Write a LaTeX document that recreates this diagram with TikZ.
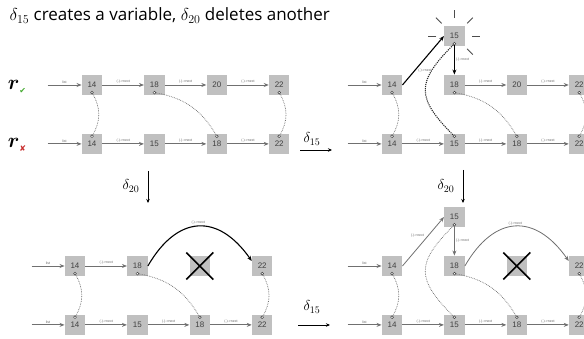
\documentclass[tikz,border=0pt]{standalone}
\usepackage{amsmath}
\usepackage{bm}
\usepackage{fontspec}
\setmainfont{Open Sans}
\newfontfamily\boxfont{Liberation Sans}
\newfontfamily\symfont{DejaVu Sans}
\usetikzlibrary{arrows.meta, positioning, calc}

\definecolor{boxgray}{RGB}{192,192,192}
\definecolor{linegray}{RGB}{112,112,112}
\definecolor{okgreen}{RGB}{70,170,50}
\definecolor{badred}{RGB}{200,45,45}

\begin{document}
\begin{tikzpicture}[x=1pt, y=1pt,
        node distance=38pt and 41.5pt,
        % Define styles for the nodes
        cell/.style={rectangle, fill=boxgray, minimum size=20.5pt, inner sep=0pt, font=\boxfont\fontsize{8}{8}\selectfont, text=black!75},
        dot/.style={circle, draw=black!75, fill=white, line width=0.5pt, inner sep=0pt, minimum size=2.8pt},
        lab/.style={font=\boxfont\fontsize{3.5}{4}\selectfont, text=black!60, inner sep=1pt},
        mark_node/.style={inner sep=0pt},
        % Styles for arrows
        ptr/.style={-{Stealth[length=5pt, width=4pt]}, draw=linegray, line width=0.8pt},
        hot/.style={ptr, draw=black, line width=1.1pt},
        link/.style={densely dotted, draw=black!60, line width=0.7pt},
        hotlink/.style={link, draw=black!85, line width=1.1pt},
        ray/.style={draw=black!70, line width=0.8pt},
        step_arrow/.style={-{Stealth[length=4pt, width=3.5pt]}, line width=0.8pt},
        cross/.style={draw=black, line width=1.6pt}
    ]
    \useasboundingbox (0,0) rectangle (584,339);
    \clip (0,0) rectangle (584,339);

    \node[anchor=base west, font=\fontsize{17}{19}\selectfont] (title) at (6,318)
        {$\delta_{15}$ creates a variable, $\delta_{20}$ deletes another};

    % =========================================================================
    % TOP LEFT - THE TWO RUNS
    % =========================================================================
    \node[mark_node] (r_ok) at (17,252) {\fontsize{22}{22}\selectfont$\bm{r}$\textcolor{okgreen}{\symfont\fontsize{8}{8}\selectfont\raisebox{-4pt}{✔}}};
    \node[mark_node] (r_bad) at (17,194) {\fontsize{22}{22}\selectfont$\bm{r}$\textcolor{badred}{\symfont\fontsize{8}{8}\selectfont\raisebox{-4pt}{✘}}};

    \node[cell] (at14) at (92,254) {14};
    \node[cell, right=of at14] (at18) {18};
    \node[cell, right=of at18] (at20) {20};
    \node[cell, right=of at20] (at22) {22};
    \node[cell, below=of at14] (ab14) {14};
    \node[cell, right=of ab14] (ab15) {15};
    \node[cell, right=of ab15] (ab18) {18};
    \node[cell, right=of ab18] (ab22) {22};

    \coordinate (at_in) at ([xshift=-34pt]at14.west);
    \coordinate (ab_in) at ([xshift=-34pt]ab14.west);
    \draw[ptr] (at_in) -- (at14) node[lab, midway, above] {list};
    \draw[ptr] (at14) -- (at18) node[lab, midway, above] {(.)->next};
    \draw[ptr] (at18) -- (at20) node[lab, midway, above] {(.)->next};
    \draw[ptr] (at20) -- (at22) node[lab, midway, above] {(.)->next};
    \draw[ptr] (ab_in) -- (ab14) node[lab, midway, above] {list};
    \draw[ptr] (ab14) -- (ab15) node[lab, midway, above] {(.)->next};
    \draw[ptr] (ab15) -- (ab18) node[lab, midway, above] {(.)->next};
    \draw[ptr] (ab18) -- (ab22) node[lab, midway, above] {(.)->next};

    \foreach \n in {at14, at18, at22}
        \node[dot] (\n-d) at ([yshift=2.8pt]\n.south) {};
    \foreach \n in {ab14, ab18, ab22}
        \node[dot] (\n-d) at ([yshift=-2.8pt]\n.north) {};
    \draw[link] (at14-d) to[bend left=30] (ab14-d);
    \draw[link] (at18-d) to[bend left=25] (ab18-d);
    \draw[link] (at22-d) to[bend left=30] (ab22-d);

    % =========================================================================
    % TOP RIGHT - AFTER DELTA 15
    % =========================================================================
    \node (b_step) at (312,200) {\fontsize{14}{14}\selectfont$\delta_{15}$};
    \coordinate (b_step_l) at (300,189);
    \coordinate (b_step_r) at (332,189);
    \draw[step_arrow] (b_step_l) -- (b_step_r);

    \node[cell] (bt14) at (392,254) {14};
    \node[cell, right=of bt14] (bt18) {18};
    \node[cell, right=of bt18] (bt20) {20};
    \node[cell, right=of bt20] (bt22) {22};
    \node[cell, above=28pt of bt18] (bnew15) {15};
    \node[cell, below=of bt14] (bb14) {14};
    \node[cell, right=of bb14] (bb15) {15};
    \node[cell, right=of bb15] (bb18) {18};
    \node[cell, right=of bb18] (bb22) {22};

    % rays round the new cell
    \foreach \a in {0, 45, 90, 135, 180, -45}
        \draw[ray] ([shift={(\a:18)}]bnew15.center) -- ([shift={(\a:26)}]bnew15.center);

    \foreach \n in {bt14, bt18, bt22, bnew15}
        \node[dot] (\n-d) at ([yshift=2.8pt]\n.south) {};
    \foreach \n in {bb14, bb15, bb18, bb22}
        \node[dot] (\n-d) at ([yshift=-2.8pt]\n.north) {};

    \coordinate (bt_in) at ([xshift=-34pt]bt14.west);
    \coordinate (bb_in) at ([xshift=-34pt]bb14.west);
    \draw[ptr] (bt_in) -- (bt14) node[lab, midway, above] {list};
    \draw[hot] (bt14.east) -- (bnew15.west) node[lab, pos=0.3, right=2pt] {(.)->next};
    \draw[hot] (bnew15-d) -- (bt18.north) node[lab, midway, right] {(.)->next};
    \draw[ptr] (bt18) -- (bt20) node[lab, midway, above] {(.)->next};
    \draw[ptr] (bt20) -- (bt22) node[lab, midway, above] {(.)->next};
    \draw[ptr] (bb_in) -- (bb14) node[lab, midway, above] {list};
    \draw[ptr] (bb14) -- (bb15) node[lab, midway, above] {(.)->next};
    \draw[ptr] (bb15) -- (bb18) node[lab, midway, above] {(.)->next};
    \draw[ptr] (bb18) -- (bb22) node[lab, midway, above] {(.)->next};

    \draw[link] (bt14-d) to[bend left=30] (bb14-d);
    \draw[hotlink] (bnew15-d) to[out=225, in=135, looseness=1.5] (bb15-d);
    \draw[link] (bt18-d) to[bend left=25] (bb18-d);
    \draw[link] (bt22-d) to[bend left=30] (bb22-d);

    % =========================================================================
    % BOTTOM LEFT - AFTER DELTA 20
    % =========================================================================
    \node (c_step) at (131,153) {\fontsize{14}{14}\selectfont$\delta_{20}$};
    \coordinate (c_step_t) at (148,168);
    \coordinate (c_step_b) at (148,136);
    \draw[step_arrow] (c_step_t) -- (c_step_b);

    \node[cell] (ct14) at (75,73) {14};
    \node[cell, right=of ct14] (ct18) {18};
    \node[cell, right=of ct18] (cdel20) {};
    \node[cell, right=of cdel20] (ct22) {22};
    \node[cell, below=of ct14] (cb14) {14};
    \node[cell, right=of cb14] (cb15) {15};
    \node[cell, right=of cb15] (cb18) {18};
    \node[cell, right=of cb18] (cb22) {22};

    \draw[cross] ([shift={(-13.5,-13.5)}]cdel20.center) -- ([shift={(13.5,13.5)}]cdel20.center);
    \draw[cross] ([shift={(-13.5,13.5)}]cdel20.center) -- ([shift={(13.5,-13.5)}]cdel20.center);

    \foreach \n in {ct14, ct18, ct22}
        \node[dot] (\n-d) at ([yshift=2.8pt]\n.south) {};
    \foreach \n in {cb14, cb18, cb22}
        \node[dot] (\n-d) at ([yshift=-2.8pt]\n.north) {};

    \coordinate (ct_in) at ([xshift=-33pt]ct14.west);
    \coordinate (cb_in) at ([xshift=-33pt]cb14.west);
    \draw[ptr] (ct_in) -- (ct14) node[lab, midway, above] {list};
    \draw[ptr] (ct14) -- (ct18) node[lab, midway, above] {(.)->next};
    \draw[hot] (ct18.east) to[out=60, in=125, looseness=1.45] node[lab, above] {(.)->next} ([yshift=5pt]ct22.west);
    \draw[ptr] (cb_in) -- (cb14) node[lab, midway, above] {list};
    \draw[ptr] (cb14) -- (cb15) node[lab, midway, above] {(.)->next};
    \draw[ptr] (cb15) -- (cb18) node[lab, midway, above] {(.)->next};
    \draw[ptr] (cb18) -- (cb22) node[lab, midway, above] {(.)->next};

    \draw[link] (ct14-d) to[bend left=30] (cb14-d);
    \draw[link] (ct18-d) to[bend left=25] (cb18-d);
    \draw[link] (ct22-d) to[bend left=30] (cb22-d);

    % =========================================================================
    % BOTTOM RIGHT - AFTER BOTH
    % =========================================================================
    \node (d_step) at (446,153) {\fontsize{14}{14}\selectfont$\delta_{20}$};
    \coordinate (d_step_t) at (463,169);
    \coordinate (d_step_b) at (463,136);
    \draw[step_arrow] (d_step_t) -- (d_step_b);
    \node (e_step) at (312,32) {\fontsize{14}{14}\selectfont$\delta_{15}$};
    \coordinate (e_step_l) at (298,14);
    \coordinate (e_step_r) at (330,14);
    \draw[step_arrow] (e_step_l) -- (e_step_r);

    \node[cell] (dt14) at (392,73) {14};
    \node[cell, right=of dt14] (dt18) {18};
    \node[cell, right=of dt18] (ddel20) {};
    \node[cell, right=of ddel20] (dt22) {22};
    \node[cell, above=28pt of dt18] (dnew15) {15};
    \node[cell, below=of dt14] (db14) {14};
    \node[cell, right=of db14] (db15) {15};
    \node[cell, right=of db15] (db18) {18};
    \node[cell, right=of db18] (db22) {22};

    \draw[cross] ([shift={(-13.5,-13.5)}]ddel20.center) -- ([shift={(13.5,13.5)}]ddel20.center);
    \draw[cross] ([shift={(-13.5,13.5)}]ddel20.center) -- ([shift={(13.5,-13.5)}]ddel20.center);

    \foreach \n in {dt14, dt18, dt22, dnew15}
        \node[dot] (\n-d) at ([yshift=2.8pt]\n.south) {};
    \foreach \n in {db14, db15, db18, db22}
        \node[dot] (\n-d) at ([yshift=-2.8pt]\n.north) {};

    \coordinate (dt_in) at ([xshift=-34pt]dt14.west);
    \coordinate (db_in) at ([xshift=-34pt]db14.west);
    \draw[ptr] (dt_in) -- (dt14) node[lab, midway, above] {list};
    \draw[ptr] (dt14.east) -- (dnew15.west) node[lab, pos=0.55, above left] {(.)->next};
    \draw[ptr] (dnew15-d) -- (dt18.north) node[lab, midway, right] {(.)->next};
    \draw[ptr] (dt18.east) to[out=60, in=125, looseness=1.45] node[lab, above] {(.)->next} ([yshift=5pt]dt22.west);
    \draw[ptr] (db_in) -- (db14) node[lab, midway, above] {list};
    \draw[ptr] (db14) -- (db15) node[lab, midway, above] {(.)->next};
    \draw[ptr] (db15) -- (db18) node[lab, midway, above] {(.)->next};
    \draw[ptr] (db18) -- (db22) node[lab, midway, above] {(.)->next};

    \draw[link] (dt14-d) to[bend left=30] (db14-d);
    \draw[link] (dnew15-d) to[out=225, in=135, looseness=1.5] (db15-d);
    \draw[link] (dt18-d) to[bend left=25] (db18-d);
    \draw[link] (dt22-d) to[bend left=30] (db22-d);

\end{tikzpicture}
\end{document}
